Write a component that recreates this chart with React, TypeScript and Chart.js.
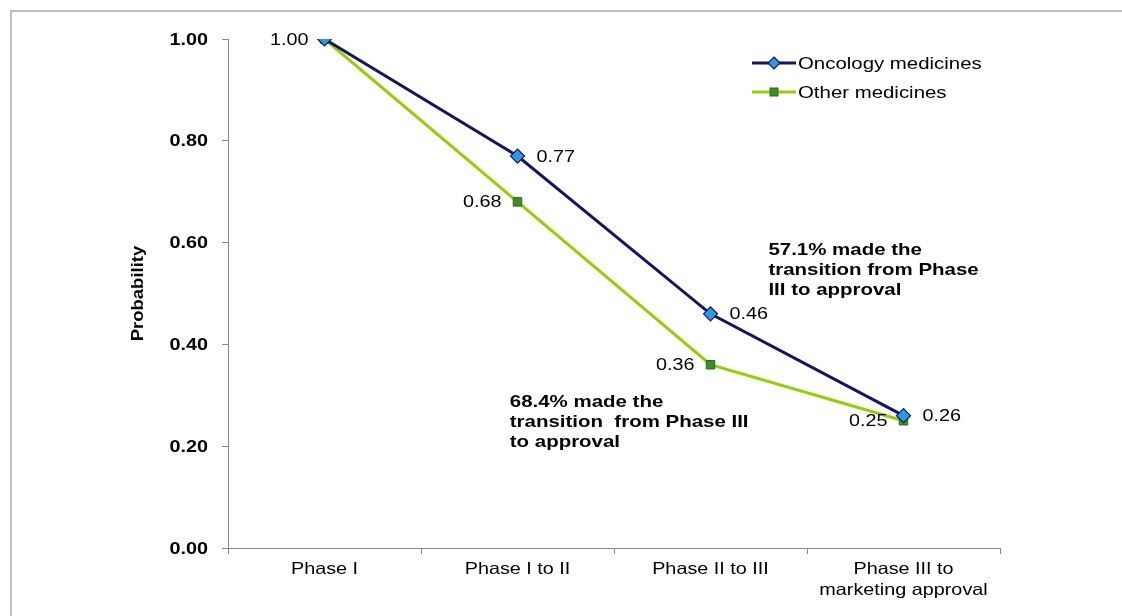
import React, { useEffect, useRef } from "react";
import { Chart, registerables } from "chart.js";

Chart.register(...registerables);

const categories: string[][] = [["Phase I"], ["Phase I to II"], ["Phase II to III"], ["Phase III to", "marketing approval"]];
const oncologyValues = [1.0, 0.77, 0.46, 0.26];
const otherValues = [1.0, 0.68, 0.36, 0.25];
const oncologyLabels = ["1.00", "0.77", "0.46", "0.26"];
const otherLabels = ["", "0.68", "0.36", "0.25"];
const seriesNames = ["Oncology medicines", "Other medicines"];
const yAxisTitle = "Probability";
const yMin = 0;
const yMax = 1;
const yStep = 0.2;
const noteOncology = ["57.1% made the", "transition from Phase", "III to approval"];
const noteOther = ["68.4% made the", "transition  from Phase III", "to approval"];

const FONT = "'Liberation Sans', Arial, sans-serif";
const STRETCH = 1.2;
const NAVY = "#131466";
const GREEN = "#94cf00";
const BLUE_FILL = "#2a9be0";
const SQ_FILL = "#3b8e2b";
const SQ_BORDER = "#2c6b1f";

const oncologySides = ["left", "right", "right", "right"];
const otherSides = ["none", "left", "left", "left"];

function drawText(
  ctx: CanvasRenderingContext2D,
  text: string,
  x: number,
  y: number,
  align: CanvasTextAlign,
  font: string,
  stretch = STRETCH
) {
  ctx.save();
  ctx.translate(x, y);
  ctx.scale(stretch, 1);
  ctx.font = font;
  ctx.textAlign = align;
  ctx.textBaseline = "middle";
  ctx.fillStyle = "#000";
  ctx.fillText(text, 0, 0);
  ctx.restore();
}

const overlayPlugin = {
  id: "overlay",
  afterDatasetsDraw(chart: any) {
    const ctx = chart.ctx as CanvasRenderingContext2D;
    const xs = chart.scales.x;
    const ys = chart.scales.y;
    ctx.save();

    // y tick labels
    const yFont = `bold 16.5px ${FONT}`;
    ys.ticks.forEach((t: any) => {
      const y = ys.getPixelForValue(t.value);
      drawText(ctx, Number(t.value).toFixed(2), ys.right - 20, y + 1, "right", yFont);
    });

    // x tick labels
    const xFont = `16.5px ${FONT}`;
    categories.forEach((lines, i) => {
      const x = xs.getPixelForValue(i);
      lines.forEach((l, k) => drawText(ctx, l, x, xs.top + 21 + k * 21, "center", xFont));
    });

    // point labels
    const lFont = `16.5px ${FONT}`;
    const drawLabels = (dsIndex: number, labels: string[], sides: string[]) => {
      const meta = chart.getDatasetMeta(dsIndex);
      meta.data.forEach((pt: any, i: number) => {
        const side = sides[i];
        if (side === "none" || !labels[i]) return;
        if (side === "left") drawText(ctx, labels[i], pt.x - 16, pt.y + 1, "right", lFont);
        else drawText(ctx, labels[i], pt.x + 19, pt.y + 1, "left", lFont);
      });
    };
    drawLabels(0, oncologyLabels, oncologySides);
    drawLabels(1, otherLabels, otherSides);

    // annotations
    const nFont = `bold 16.5px ${FONT}`;
    const drawNote = (lines: string[], xi: number, yv: number) => {
      const x = xs.getPixelForValue(xi);
      const y = ys.getPixelForValue(yv);
      lines.forEach((l, k) => drawText(ctx, l, x, y + k * 20, "left", nFont, 1.24));
    };
    drawNote(noteOncology, 2.3, 0.585);
    drawNote(noteOther, 0.96, 0.286);

    // y title
    ctx.save();
    ctx.translate(138, (ys.top + ys.bottom) / 2);
    ctx.rotate(-Math.PI / 2);
    drawText(ctx, yAxisTitle, 0, 0, "center", `bold 16.5px ${FONT}`, 1.12);
    ctx.restore();

    // legend
    const lx = 752;
    const items = [
      { y: 63, color: NAVY, style: "diamond" },
      { y: 92, color: GREEN, style: "square" },
    ];
    items.forEach((it, k) => {
      ctx.strokeStyle = it.color;
      ctx.lineWidth = 3;
      ctx.beginPath();
      ctx.moveTo(lx, it.y);
      ctx.lineTo(lx + 44, it.y);
      ctx.stroke();
      const cx = lx + 22;
      if (it.style === "diamond") {
        ctx.beginPath();
        ctx.moveTo(cx, it.y - 6);
        ctx.lineTo(cx + 6, it.y);
        ctx.lineTo(cx, it.y + 6);
        ctx.lineTo(cx - 6, it.y);
        ctx.closePath();
        ctx.fillStyle = BLUE_FILL;
        ctx.fill();
        ctx.lineWidth = 1.2;
        ctx.strokeStyle = NAVY;
        ctx.stroke();
      } else {
        ctx.fillStyle = SQ_FILL;
        ctx.fillRect(cx - 4, it.y - 4, 8, 8);
        ctx.lineWidth = 1;
        ctx.strokeStyle = SQ_BORDER;
        ctx.strokeRect(cx - 4, it.y - 4, 8, 8);
      }
      drawText(ctx, seriesNames[k], lx + 46, it.y + 1, "left", `17px ${FONT}`);
    });
    ctx.restore();
  },
};

export default function App() {
  const ref = useRef<HTMLCanvasElement | null>(null);
  useEffect(() => {
    if (!ref.current) return;
    const chart = new Chart(ref.current, {
      type: "line",
      data: {
        labels: categories.map((c) => c.join(" ")),
        datasets: [
          {
            label: seriesNames[0],
            data: oncologyValues,
            borderColor: NAVY,
            borderWidth: 3,
            backgroundColor: BLUE_FILL,
            pointStyle: "rectRot",
            pointRadius: 7,
            pointBorderColor: NAVY,
            pointBorderWidth: 1.2,
            pointBackgroundColor: BLUE_FILL,
            tension: 0,
            order: 0,
          },
          {
            label: seriesNames[1],
            data: otherValues,
            borderColor: GREEN,
            borderWidth: 3,
            backgroundColor: SQ_FILL,
            pointStyle: "rect",
            pointRadius: 6,
            pointBorderColor: SQ_BORDER,
            pointBorderWidth: 1,
            pointBackgroundColor: SQ_FILL,
            tension: 0,
            order: 1,
          },
        ],
      },
      options: {
        responsive: false,
        animation: false,
        devicePixelRatio: 1,
        layout: { padding: { left: 0, right: 122, top: 39, bottom: 0 } },
        plugins: {
          legend: { display: false },
          tooltip: { enabled: false },
        },
        scales: {
          x: {
            type: "category",
            offset: true,
            grid: {
              offset: true,
              drawOnChartArea: false,
              drawTicks: true,
              tickLength: 6,
              color: "#888",
            },
            border: { color: "#888", width: 1 },
            ticks: { display: false, autoSkip: false },
            afterFit: (s: any) => {
              s.height = 68;
            },
          },
          y: {
            min: yMin,
            max: yMax,
            grid: {
              drawOnChartArea: false,
              drawTicks: true,
              tickLength: 6,
              color: "#888",
            },
            border: { color: "#888", width: 1 },
            ticks: { display: false, stepSize: yStep },
            afterFit: (s: any) => {
              s.width = 228;
            },
          },
        },
      },
      plugins: [overlayPlugin],
    } as any);
    return () => chart.destroy();
  }, []);
  return (
    <div style={{ position: "fixed", left: 0, top: 0, width: 1122, height: 616, background: "#fff" }}>
      <div
        style={{
          position: "absolute",
          left: 10,
          top: 10,
          right: 0,
          bottom: 0,
          borderTop: "2px solid #c0c0c0",
          borderLeft: "2px solid #c0c0c0",
        }}
      />
      <canvas ref={ref} width={1122} height={616} style={{ position: "absolute", left: 0, top: 0, display: "block" }} />
    </div>
  );
}
